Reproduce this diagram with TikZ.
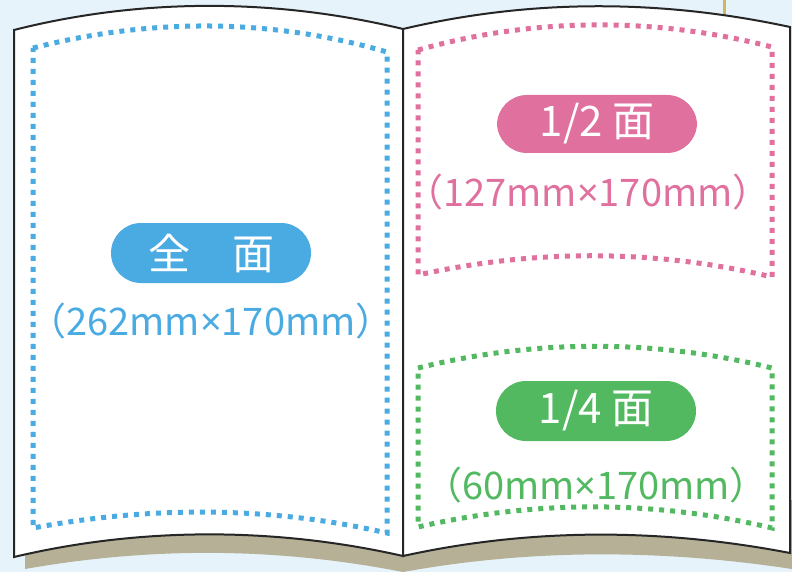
\documentclass[tikz,border=0pt]{standalone}
\usepackage{fontspec}
\setmainfont{Noto Sans CJK JP}
\newfontfamily\latinfont{Noto Sans}
\usepackage{tikz}

\definecolor{bgblue}{HTML}{E6F3FB}
\definecolor{zenblue}{HTML}{4AAAE2}
\definecolor{halfpink}{HTML}{E0709E}
\definecolor{quartgreen}{HTML}{52B961}
\definecolor{shadowkhaki}{HTML}{B5B096}
\definecolor{ribbongold}{HTML}{D2B65E}

\newcommand{\tms}{{\latinfont ×}}

\tikzset{
  pagefill/.style={fill=white, draw=black!85, line width=2pt, line join=miter},
  dotframe/.style={line width=5pt, dash pattern=on 5pt off 6pt},
  pill/.style={fill=#1, text=white, rounded corners=30pt, minimum width=200pt,
    minimum height=60pt, inner sep=0pt, font=\fontsize{42}{42}\selectfont},
  sizelabel/.style={text=#1, inner sep=0pt, font=\fontsize{38}{38}\selectfont}
}

\begin{document}
\begin{tikzpicture}[x=1pt, y=-1pt]
\useasboundingbox[fill=bgblue] (0,0) rectangle (792,572);
% ribbon and shadow under the book
\draw[ribbongold, line width=3pt] (724,0) -- (724,16);
\fill[shadowkhaki] (25,500) -- (25,569) .. controls (150,547) and (275,547) .. (403,572)
	.. controls (530,549) and (660,549) .. (792,569) -- (792,500) -- cycle;
% left and right pages
\draw[pagefill] (14,30) .. controls (140,-2) and (275,-2) .. (403,29)
	-- (403,556) .. controls (275,527) and (140,527) .. (14,557) -- cycle;
\draw[pagefill] (403,29) .. controls (530,-1) and (660,-1) .. (790,27)
	-- (790,553) .. controls (660,528) and (530,528) .. (403,556) -- cycle;
% dotted frames
\draw[dotframe, zenblue] (33,48) .. controls (150,18) and (270,18) .. (387,52)
	-- (387,533) .. controls (270,506) and (150,506) .. (33,528) -- cycle;
\draw[dotframe, halfpink] (418,50) .. controls (535,17) and (655,17) .. (772,47)
	-- (772,277) .. controls (655,249) and (535,249) .. (418,275) -- cycle;
\draw[dotframe, quartgreen] (418,368) .. controls (535,339) and (655,339) .. (772,368)
	-- (772,528) .. controls (655,500) and (535,500) .. (418,527) -- cycle;
% labels
\node[pill=zenblue] (zen) at (211,253) {全　面};
\node[sizelabel=zenblue] (zensize) at (211,321) {（262mm\tms170mm）};
\node[pill=halfpink, minimum height=58pt] (half) at (597,124) {1/2 面};
\node[sizelabel=halfpink] (halfsize) at (588,192) {（127mm\tms170mm）};
\node[pill=quartgreen] (quart) at (596,411) {1/4 面};
\node[sizelabel=quartgreen] (quartsize) at (596,485) {（60mm\tms170mm）};
\end{tikzpicture}
\end{document}
